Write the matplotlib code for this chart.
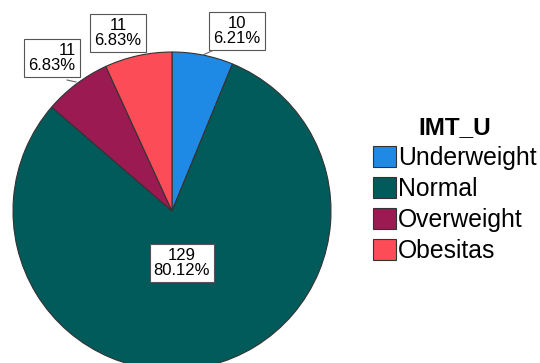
import matplotlib.pyplot as plt

plt.rcParams['font.family'] = ['Liberation Sans', 'DejaVu Sans']

# IMT_U categories and counts
categories = ['Underweight', 'Normal', 'Overweight', 'Obesitas']
counts = [10, 129, 11, 11]
colors = ['#1e8ae6', '#015b5a', '#9c1a52', '#fc4c57']

# label box centres (canvas units) and alignment for each slice
label_pos = [(237, 332), (182, 100), (52, 305), (118, 330)]
label_align = ['center', 'center', 'right', 'center']

fig = plt.figure(figsize=(5.4, 3.63), dpi=100)
ax = fig.add_axes([0, 0, 1, 1])
ax.set_xlim(0, 540)
ax.set_ylim(0, 363)
ax.set_aspect('equal')
ax.axis('off')

wedges, _ = ax.pie(counts, colors=colors, center=(172, 152), radius=159,
                   startangle=90, counterclock=False,
                   wedgeprops=dict(edgecolor='#333333', linewidth=0.8))
ax.set_xlim(0, 540)
ax.set_ylim(0, 363)

total = sum(counts)
for n, (x, y), ha in zip(counts, label_pos, label_align):
    txt = '{}\n{:.2f}%'.format(n, 100 * n / total)
    ax.text(x, y, txt, ha='center', va='center', multialignment=ha,
            fontsize=12, linespacing=1.05,
            bbox=dict(boxstyle='square,pad=0.25', facecolor='white',
                      edgecolor='#555555', linewidth=0.8))

# leader lines for the small slices
ax.plot([203, 216], [308, 314], color='#666666', linewidth=0.8)
ax.plot([67, 76], [283, 281], color='#666666', linewidth=0.8)

leg = ax.legend(wedges, categories, title='IMT_U', loc='upper left',
                bbox_to_anchor=(361 / 540, 1 - 104 / 363), frameon=False,
                fontsize=17.8, handlelength=0.9, handleheight=0.9,
                handletextpad=0.1, labelspacing=0.28, borderpad=0,
                title_fontproperties=dict(weight='bold', size=17.5))
for h in leg.legend_handles:
    h.set_edgecolor('#333333')

fig.savefig('out.png', dpi=100)
